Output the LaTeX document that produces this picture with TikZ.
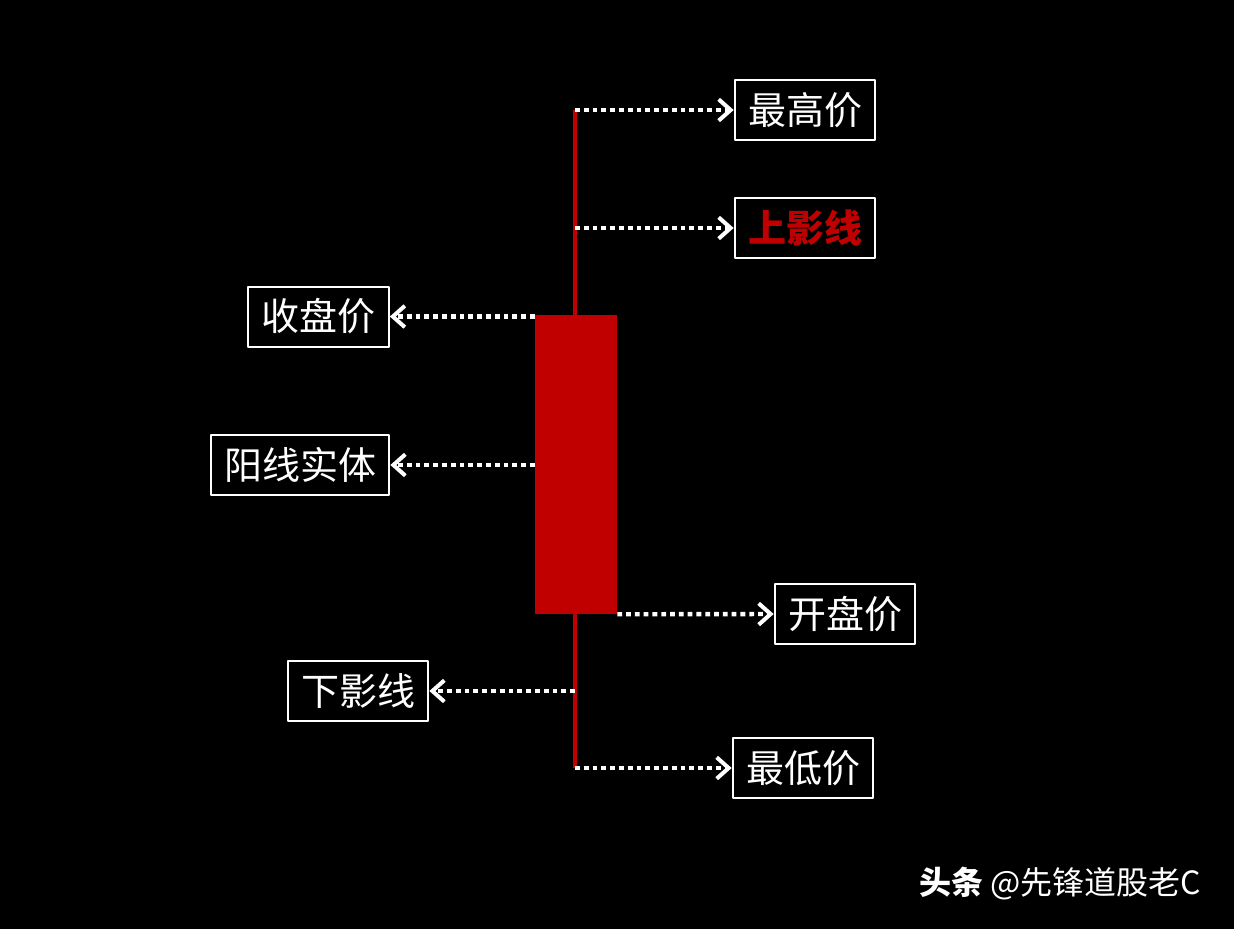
\documentclass[tikz,border=0pt]{standalone}
\usepackage{fontspec}
\setmainfont{Noto Sans CJK SC}
\usetikzlibrary{arrows.meta}
\definecolor{kred}{HTML}{C00000}
\begin{document}
\begin{tikzpicture}[x=0.75pt, y=-0.75pt, line join=round,
    lbl/.style={draw=white, line width=1.5pt, text=white, fill=black, inner xsep=10pt, minimum height=45pt, font=\fontsize{28.5}{30}\selectfont},
    ptr/.style={white, line width=3.3pt, dash pattern=on 3.6pt off 3pt, -{Straight Barb[length=9pt,width=16pt,line width=3pt]}}]
    \fill[black] (0,0) rectangle (1234,929);
    \useasboundingbox (0,0) rectangle (1234,929);
    \coordinate (hi) at (575,110);
    \coordinate (lo) at (575,768);
    \draw[kred, line width=2.4pt] (hi)--(lo);
    \node[fill=kred, minimum width=61.5pt, minimum height=224.25pt, inner sep=0pt] (body) at (576,464.5) {};
    \node[lbl] (high) at (805,110) {最高价};
    \node[lbl, text=kred, font=\fontsize{28.5}{30}\selectfont\bfseries] (upper) at (805,228) {上影线};
    \node[lbl] (close) at (318.5,316.5) {收盘价};
    \node[lbl] (real) at (300,465) {阳线实体};
    \node[lbl] (open) at (845,614) {开盘价};
    \node[lbl] (lower) at (358,691) {下影线};
    \node[lbl] (low) at (803,768) {最低价};
    \draw[ptr] (hi)--(high.west);
    \draw[ptr] (hi |- upper.west)--(upper.west);
    \draw[ptr] (body.north west |- close.east)--(close.east);
    \draw[ptr] (body.west |- real.east)--(real.east);
    \draw[ptr] (body.south east)--(open.west);
    \draw[ptr] (lo |- lower.east)--(lower.east);
    \draw[ptr] (lo)--(low.west);
    \node[text=white, font=\fontsize{24}{26}\selectfont, anchor=east] (mark) at (1206,884) {\textbf{头条} @先锋道股老C};
\end{tikzpicture}
\end{document}
